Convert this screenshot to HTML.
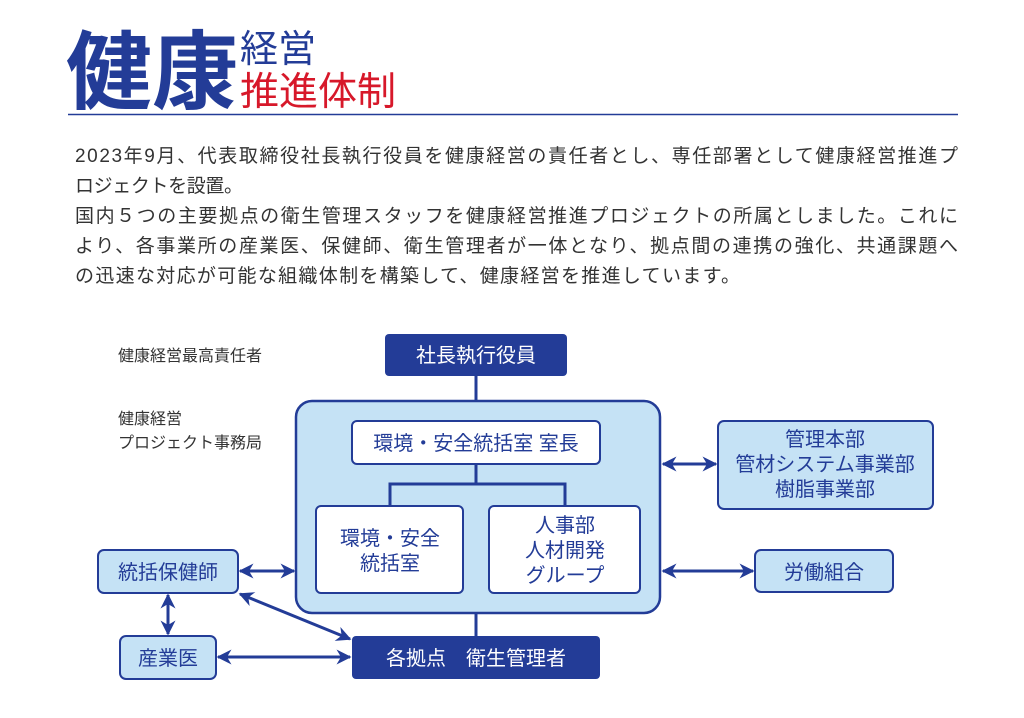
<!DOCTYPE html>
<html><head><meta charset="utf-8"><style>
html,body{margin:0;padding:0;background:#fff;width:1024px;height:718px;overflow:hidden}
svg{display:block}
text{font-family:"Liberation Sans","Noto Sans CJK JP",sans-serif}
</style></head><body>
<svg width="1024" height="718" viewBox="0 0 1024 718">
<defs>
<marker id="a" viewBox="0 0 10 10" refX="9" refY="5" markerWidth="5" markerHeight="5" orient="auto-start-reverse">
<path d="M0,0 L10,5 L0,10 L3,5 z" fill="#233c97"/></marker>
</defs>
<text x="66" y="102" font-size="86" font-weight="bold" fill="#233c97">健康</text>
<text x="240" y="62" font-size="38" fill="#233c97">経営</text>
<text x="240" y="105" font-size="39" fill="#d7182a">推進体制</text>
<line x1="68" y1="114.5" x2="958" y2="114.5" stroke="#233c97" stroke-width="1.5"/>
<g font-size="19" fill="#333" lengthAdjust="spacing">
<text x="75" y="162" textLength="883">2023年9月、代表取締役社長執行役員を健康経営の責任者とし、専任部署として健康経営推進プ</text>
<text x="75" y="192" textLength="168">ロジェクトを設置。</text>
<text x="75" y="222" textLength="883">国内５つの主要拠点の衛生管理スタッフを健康経営推進プロジェクトの所属としました。これに</text>
<text x="75" y="252" textLength="883">より、各事業所の産業医、保健師、衛生管理者が一体となり、拠点間の連携の強化、共通課題へ</text>
<text x="75" y="282" textLength="665">の迅速な対応が可能な組織体制を構築して、健康経営を推進しています。</text>
</g>
<g font-size="16" fill="#333">
<text x="118" y="361">健康経営最高責任者</text>
<text x="118" y="424">健康経営</text>
<text x="118" y="448">プロジェクト事務局</text>
</g>
<g stroke="#233c97" stroke-width="3" fill="none">
<line x1="476" y1="376" x2="476" y2="401"/>
<line x1="476" y1="613" x2="476" y2="636"/>
</g>
<rect x="296" y="401" width="364" height="212" rx="16" fill="#c5e2f5" stroke="#233c97" stroke-width="2.5"/>
<path d="M390,506 V484 H565 V506 M476,464 V484" stroke="#233c97" stroke-width="3" fill="none"/>
<rect x="385" y="334" width="182" height="42" rx="4" fill="#233c97"/>
<text x="476" y="362" font-size="20" fill="#fff" text-anchor="middle">社長執行役員</text>
<g stroke="#233c97" stroke-width="2" fill="#fff">
<rect x="352" y="421" width="248" height="43" rx="5"/>
<rect x="316" y="506" width="147" height="87" rx="5"/>
<rect x="489" y="506" width="151" height="87" rx="5"/>
</g>
<g stroke="#233c97" stroke-width="2" fill="#c5e2f5">
<rect x="718" y="421" width="215" height="88" rx="6"/>
<rect x="755" y="550" width="138" height="42" rx="6"/>
<rect x="98" y="550" width="140" height="43" rx="6"/>
<rect x="120" y="636" width="96" height="43" rx="6"/>
</g>
<rect x="352" y="636" width="248" height="43" rx="4" fill="#233c97"/>
<g font-size="20" fill="#233c97" text-anchor="middle">
<text x="476" y="450">環境・安全統括室 室長</text>
<text x="390" y="545">環境・安全</text>
<text x="390" y="570">統括室</text>
<text x="565" y="532">人事部</text>
<text x="565" y="557">人材開発</text>
<text x="565" y="582">グループ</text>
<text x="825" y="446">管理本部</text>
<text x="825" y="471">管材システム事業部</text>
<text x="825" y="496">樹脂事業部</text>
<text x="824" y="579">労働組合</text>
<text x="168" y="579">統括保健師</text>
<text x="168" y="665">産業医</text>
</g>
<text x="476" y="665" font-size="20" fill="#fff" text-anchor="middle">各拠点　衛生管理者</text>
<g stroke="#233c97" stroke-width="3" marker-start="url(#a)" marker-end="url(#a)">
<line x1="663" y1="464" x2="716" y2="464"/>
<line x1="663" y1="571" x2="753" y2="571"/>
<line x1="240" y1="571" x2="294" y2="571"/>
<line x1="218" y1="657" x2="350" y2="657"/>
<line x1="168" y1="595" x2="168" y2="634"/>
<line x1="240" y1="594" x2="350" y2="639"/>
</g>
</svg>
</body></html>
